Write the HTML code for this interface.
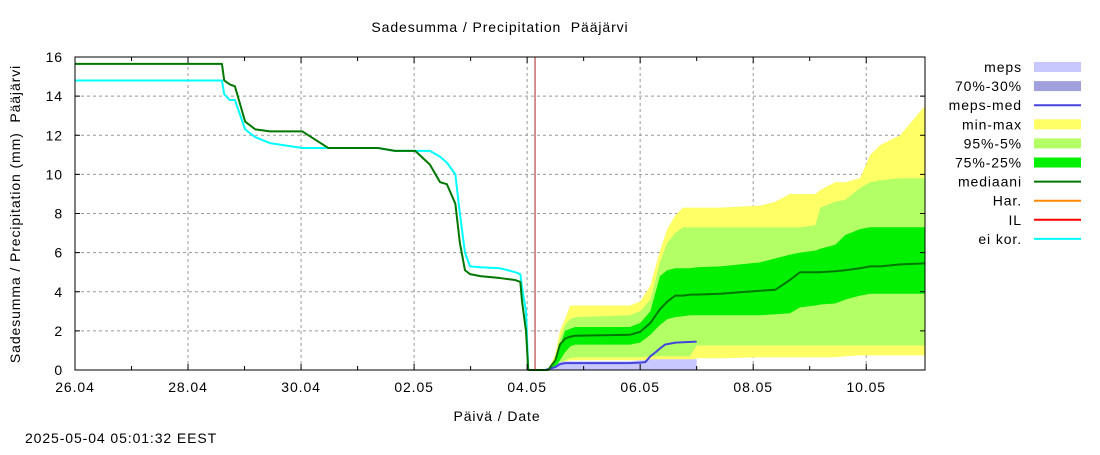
<!DOCTYPE html>
<html><head><meta charset="utf-8">
<style>
body{margin:0;background:#fff;}
svg text{font-family:"Liberation Sans",sans-serif;font-size:14px;letter-spacing:0.9px;fill:#000;}
</style></head>
<body>
<svg id="chart" width="1100" height="450" xmlns="http://www.w3.org/2000/svg">
<text x="500" y="32" text-anchor="middle" xml:space="preserve">Sadesumma / Precipitation  Pääjärvi</text>
<text transform="translate(20,214) rotate(-90)" text-anchor="middle" xml:space="preserve">Sadesumma / Precipitation (mm)  Pääjärvi</text>
<text x="497" y="421" text-anchor="middle">Päivä / Date</text>
<text x="25" y="443">2025-05-04 05:01:32 EEST</text>
<g id="grid"></g><g id="marks"></g><g id="axes"></g><g id="legend"></g>
</svg>
<script>
const xTickLabels=["26.04","28.04","30.04","02.05","04.05","06.05","08.05","10.05"];
const yTicks=[0,2,4,6,8,10,12,14,16];
const hx=[0,2.6,2.64,2.74,2.83,3.01,3.19,3.45,4.02,4.48,5.36,5.66,6.02,6.28,6.46,6.58,6.73,6.81,6.9,6.99,7.17,7.52,7.79,7.88,7.91,7.98,8.02,8.14];
const histMedian=[15.65,15.65,14.8,14.6,14.5,12.7,12.3,12.2,12.2,11.35,11.35,11.2,11.2,10.5,9.6,9.5,8.5,6.5,5.1,4.9,4.8,4.7,4.6,4.5,3.5,2.0,0,0];
const histUncorr=[14.8,14.8,14.1,13.8,13.8,12.3,11.9,11.6,11.35,11.35,11.35,11.2,11.2,11.2,10.9,10.6,10.0,8.0,6.0,5.3,5.25,5.2,5.0,4.9,4.2,3.0,0];
const fx=[8.14,8.37,8.5,8.58,8.67,8.76,8.85,9.82,10.0,10.18,10.35,10.48,10.62,10.76,10.88,11.0,11.42,12.12,12.39,12.65,12.83,13.1,13.19,13.45,13.63,13.89,14.07,14.25,14.6,15.04];
const fMax=[0,0,0.8,2.0,2.6,3.3,3.3,3.3,3.5,4.3,6.1,7.2,7.9,8.3,8.3,8.3,8.3,8.4,8.6,9.0,9.0,9.0,9.2,9.6,9.6,9.8,11.0,11.5,12.0,13.5];
const fP95=[0,0,0.6,1.6,2.3,2.6,2.7,2.8,3.0,3.6,5.5,6.5,7.0,7.3,7.3,7.3,7.3,7.3,7.3,7.3,7.3,7.4,8.3,8.6,8.7,9.3,9.6,9.7,9.8,9.8];
const fP75=[0,0,0.4,1.2,2.0,2.1,2.2,2.2,2.4,3.0,4.8,5.1,5.2,5.2,5.2,5.25,5.3,5.5,5.7,5.9,6.0,6.1,6.2,6.4,6.9,7.2,7.3,7.3,7.3,7.3];
const fP25=[0,0,0.1,0.5,0.9,1.2,1.3,1.3,1.4,1.8,2.3,2.6,2.7,2.75,2.8,2.8,2.8,2.8,2.85,2.9,3.2,3.3,3.35,3.4,3.6,3.8,3.9,3.9,3.9,3.9];
const fP5=[0,0,0,0.2,0.5,0.6,0.65,0.65,0.65,0.7,0.7,0.7,0.7,0.7,0.7,1.25,1.25,1.25,1.25,1.25,1.25,1.25,1.25,1.25,1.25,1.25,1.25,1.25,1.25,1.25];
const fMin=[0,0,0,0.1,0.4,0.5,0.5,0.5,0.5,0.5,0.5,0.5,0.5,0.5,0.5,0.6,0.6,0.65,0.65,0.65,0.65,0.65,0.65,0.65,0.7,0.75,0.75,0.75,0.75,0.75];
const fMedian=[0,0,0.5,1.3,1.6,1.7,1.75,1.8,1.95,2.4,3.1,3.5,3.8,3.8,3.85,3.85,3.9,4.05,4.1,4.6,5.0,5.0,5.0,5.05,5.1,5.2,5.3,5.3,5.4,5.45];
const mx=[8.14,8.32,8.5,8.58,8.67,9.82,10.0,10.09,10.18,10.27,10.35,10.44,10.53,10.62,11.0];
const mepsTop=[0,0,0.2,0.4,0.45,0.45,0.5,0.5,0.55,0.55,0.55,0.55,0.55,0.55,0.55];
const mepsMed=[0,0,0.15,0.3,0.35,0.35,0.38,0.4,0.7,0.9,1.1,1.3,1.35,1.4,1.45];
const nowDay=8.14;

const X0=75,X1=925,Y0=370,Y1=57,DAYS=15.04,YMAX=16;
const NS="http://www.w3.org/2000/svg";
const xs=d=>X0+d*(X1-X0)/DAYS;
const ys=v=>Y0-v*(Y0-Y1)/YMAX;
function mk(tag,parent,attrs){const e=document.createElementNS(NS,tag);for(const k in attrs)e.setAttribute(k,attrs[k]);document.getElementById(parent).appendChild(e);return e;}
function band(x,lo,hi,color,name){
  let pts=x.map((d,i)=>xs(d)+","+ys(hi[i]));
  for(let i=x.length-1;i>=0;i--)pts.push(xs(x[i])+","+ys(lo[i]));
  const p=mk("polygon","marks",{points:pts.join(" "),fill:color});
  
  
}
function line(x,y,color,w,name){
  const pts=y.map((v,i)=>xs(x[i])+","+ys(v)).join(" ");
  const p=mk("polyline","marks",{points:pts,fill:"none",stroke:color,"stroke-width":w,"stroke-linejoin":"round"});
  
  
}
yTicks.forEach(v=>{
  if(v>0&&v<YMAX){const g=mk("line","grid",{x1:X0,x2:X1,y1:ys(v),y2:ys(v),stroke:"#999","stroke-dasharray":"3,3"});
  
  }
  const t=mk("text","axes",{x:X0-12,y:ys(v)+5,"text-anchor":"end"});t.textContent=v;
  
  
  mk("line","axes",{x1:X0,x2:X0+5,y1:ys(v),y2:ys(v),stroke:"#000"});
  mk("line","axes",{x1:X1,x2:X1-5,y1:ys(v),y2:ys(v),stroke:"#000"});
});
for(let d=1;d<15;d++){
  if(d%2===0){const g=mk("line","grid",{x1:xs(d),x2:xs(d),y1:Y0,y2:Y1,stroke:"#999","stroke-dasharray":"3,3"});
  
  }
  const L=d%2===0?6:4;
  mk("line","axes",{x1:xs(d),x2:xs(d),y1:Y0,y2:Y0-L,stroke:"#000"});
  mk("line","axes",{x1:xs(d),x2:xs(d),y1:Y1,y2:Y1+L,stroke:"#000"});
}
xTickLabels.forEach((s,i)=>{
  const t=mk("text","axes",{x:xs(i*2),y:392,"text-anchor":"middle"});t.textContent=s;
  
  
});
band(fx,fMin,fMax,"#ffff66","min-max-band");
band(fx,fP5,fP95,"#b3ff66","p95-p5-band");
band(fx,fP25,fP75,"#00f000","p75-p25-band");
band(mx,mepsTop.map(()=>0),mepsTop,"#c8c8ff","meps-band");
line(mx,mepsMed,"#4444dd",2,"meps-median-line");
line(fx,fMedian,"#007700",2,"forecast-median-line");
line(hx.slice(0,histUncorr.length),histUncorr,"#00ffff",2,"uncorrected-line");
line(hx,histMedian,"#007700",2,"history-median-line");
const nl=mk("line","marks",{x1:xs(nowDay),x2:xs(nowDay),y1:Y0,y2:Y1,stroke:"#aa2222","stroke-width":1});


const fr=mk("rect","axes",{x:X0,y:Y1,width:X1-X0,height:Y0-Y1,fill:"none",stroke:"#000"});


const legNames=["meps","70%-30%","meps-med","min-max","95%-5%","75%-25%","mediaani","Har.","IL","ei kor."];
const legColors=["#c8c8ff","#a0a0dd","#4444dd","#ffff66","#b3ff66","#00f000","#007700","#ff8800","#ff0000","#00ffff"];
const legBox=[1,1,0,1,1,1,0,0,0,0];
legNames.forEach((n,i)=>{
  const y=67+i*19.1;
  const t=mk("text","legend",{x:1022,y:y+5,"text-anchor":"end"});t.textContent=n;
  
  
  if(legBox[i]){const r=mk("rect","legend",{x:1034,y:y-5,width:47,height:10,fill:legColors[i]});
    
    }
  else{const l=mk("line","legend",{x1:1034,x2:1081,y1:y,y2:y,stroke:legColors[i],"stroke-width":2});
    
    }
});
</script>
</body></html>
